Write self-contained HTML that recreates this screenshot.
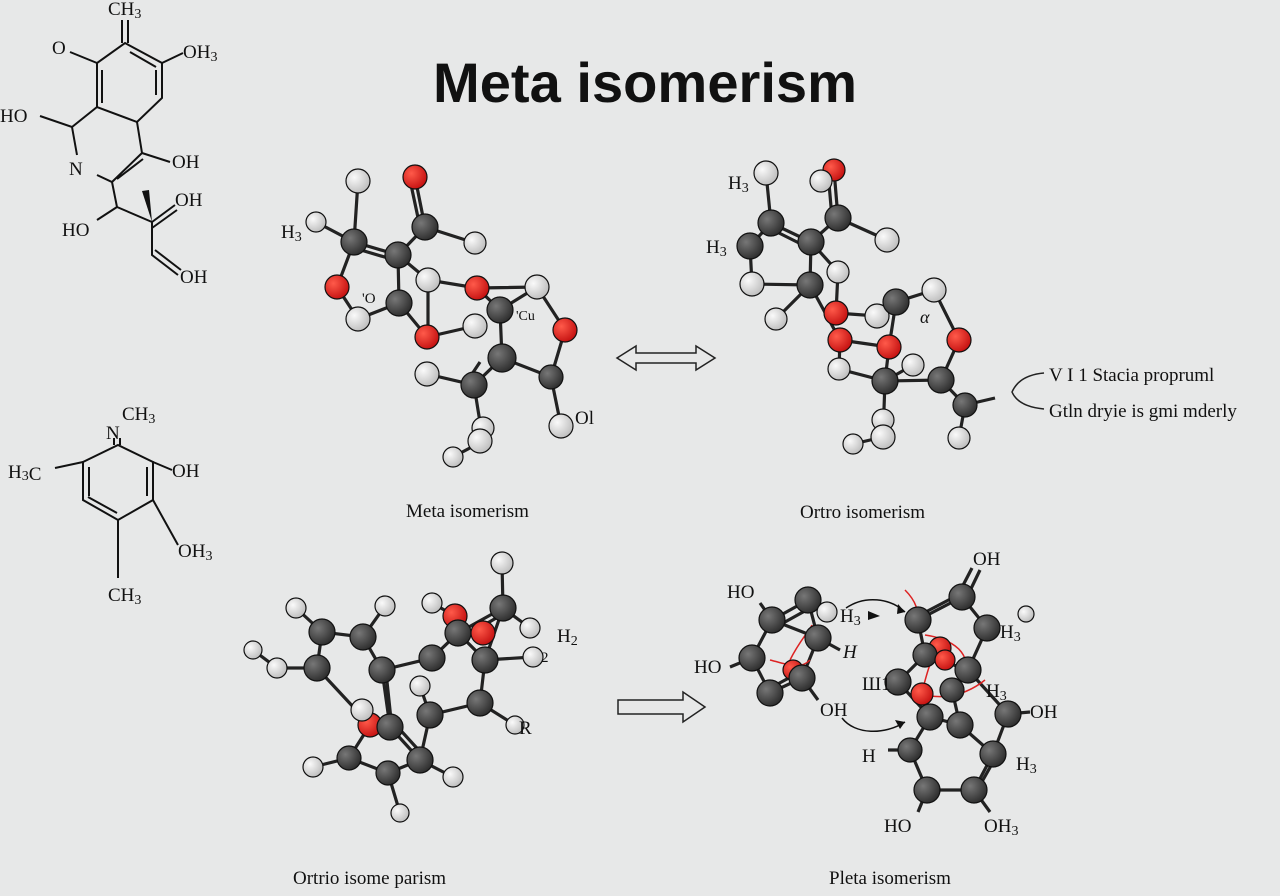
<!DOCTYPE html>
<html><head><meta charset="utf-8"><style>
html,body{margin:0;padding:0;background:#e7e8e8;}
svg{display:block}
.s{font-family:"Liberation Serif",serif;fill:#111}
.t{font-family:"Liberation Sans",sans-serif;font-weight:bold;fill:#111}
</style></head><body>
<svg width="1280" height="896" viewBox="0 0 1280 896" xmlns="http://www.w3.org/2000/svg">
<defs>
<radialGradient id="gc" cx="0.35" cy="0.35" r="0.7"><stop offset="0" stop-color="#777"/><stop offset="1" stop-color="#2c2c2c"/></radialGradient>
<radialGradient id="go" cx="0.35" cy="0.35" r="0.7"><stop offset="0" stop-color="#ff5a4a"/><stop offset="1" stop-color="#c41010"/></radialGradient>
<radialGradient id="gh" cx="0.35" cy="0.35" r="0.7"><stop offset="0" stop-color="#fafafa"/><stop offset="1" stop-color="#bdbdbd"/></radialGradient>
</defs>
<rect width="1280" height="896" fill="#e7e8e8"/>

<text class="t" x="433" y="102" font-size="56" textLength="424" lengthAdjust="spacingAndGlyphs">Meta isomerism</text>

<g class="s">
<!-- skeletal 1 -->
<g stroke="#111" stroke-width="2" fill="none">
<path d="M125,43 L162,63 L162,98 L137,122 L97,107 L97,63 Z"/>
<path d="M130,52 L156,67 M156,70 L156,95 M102,70 L102,103"/>
<path d="M122,20 V43 M128,20 V43"/>
<path d="M70,52 L97,63 M162,63 L183,53 M40,116 L72,127 L97,107 M72,127 L77,155 M97,175 L112,182 L142,153 L137,122 M117,179 L143,159 M142,153 L170,162 M112,182 L117,207 L97,220 M117,207 L152,222 L175,205 M152,228 L177,210 M152,222 L152,255 L178,275 M155,250 L181,270"/>
</g>
<path d="M152,222 L142,191 L149,190 Z" fill="#111"/>
<g font-size="19">
<text x="108" y="15">CH<tspan font-size="14" dy="3">3</tspan></text>
<text x="52" y="54">O</text>
<text x="183" y="58">OH<tspan font-size="14" dy="3">3</tspan></text>
<text x="0" y="122">HO</text>
<text x="69" y="175">N</text>
<text x="172" y="168">OH</text>
<text x="62" y="236">HO</text>
<text x="175" y="206">OH</text>
<text x="180" y="283">OH</text>
</g>

<!-- skeletal 2 -->
<g stroke="#111" stroke-width="2" fill="none">
<path d="M118,445 L153,462 L153,500 L118,520 L83,500 L83,462 Z"/>
<path d="M147,467 L147,496 M89,467 L89,496 M117,513 L88,497"/>
<path d="M114,438 V445 M120,438 V445 M55,468 L83,462 M153,462 L172,470 M153,500 L178,545 M118,520 V578"/>
</g>
<g font-size="19">
<text x="106" y="439">N</text><text x="122" y="420">CH<tspan font-size="14" dy="3">3</tspan></text>
<text x="8" y="478">H<tspan font-size="14" dy="2">3</tspan>C</text>
<text x="172" y="477">OH</text>
<text x="178" y="557">OH<tspan font-size="14" dy="3">3</tspan></text>
<text x="108" y="601">CH<tspan font-size="14" dy="3">3</tspan></text>
</g>

<!-- molecule 1 -->
<g stroke="#222" stroke-width="3.2" fill="none">
<path d="M358,181 L354,242 L316,222 M354,242 L398,255 M354,248 L398,261 M398,255 L425,227 M425,227 L415,177 M420,227 L410,180 M425,227 L475,243 M354,242 L337,287 L358,319 L399,303 L398,255 M398,255 L428,280 L477,288 L537,287 L565,330 L551,377 L561,426 M399,303 L427,337 L475,326 M428,280 L428,337 M477,288 L500,310 L502,358 L474,385 L427,374 M502,358 L551,377 M474,385 L483,441 L453,457 M500,310 L537,287 M480,362 L468,380"/>
</g>
<g stroke="#111" stroke-width="1.2">
<circle cx="358" cy="181" r="12" fill="url(#gh)"/><circle cx="415" cy="177" r="12" fill="url(#go)"/>
<circle cx="316" cy="222" r="10" fill="url(#gh)"/><circle cx="354" cy="242" r="13" fill="url(#gc)"/>
<circle cx="425" cy="227" r="13" fill="url(#gc)"/><circle cx="475" cy="243" r="11" fill="url(#gh)"/>
<circle cx="398" cy="255" r="13" fill="url(#gc)"/><circle cx="337" cy="287" r="12" fill="url(#go)"/>
<circle cx="399" cy="303" r="13" fill="url(#gc)"/><circle cx="428" cy="280" r="12" fill="url(#gh)"/>
<circle cx="477" cy="288" r="12" fill="url(#go)"/><circle cx="537" cy="287" r="12" fill="url(#gh)"/>
<circle cx="358" cy="319" r="12" fill="url(#gh)"/><circle cx="427" cy="337" r="12" fill="url(#go)"/>
<circle cx="475" cy="326" r="12" fill="url(#gh)"/><circle cx="500" cy="310" r="13" fill="url(#gc)"/>
<circle cx="565" cy="330" r="12" fill="url(#go)"/><circle cx="427" cy="374" r="12" fill="url(#gh)"/>
<circle cx="502" cy="358" r="14" fill="url(#gc)"/><circle cx="474" cy="385" r="13" fill="url(#gc)"/>
<circle cx="551" cy="377" r="12" fill="url(#gc)"/><circle cx="561" cy="426" r="12" fill="url(#gh)"/>
<circle cx="483" cy="428" r="11" fill="url(#gh)"/><circle cx="480" cy="441" r="12" fill="url(#gh)"/>
<circle cx="453" cy="457" r="10" fill="url(#gh)"/>
</g>
<g font-size="19"><text x="281" y="238">H<tspan font-size="14" dy="3">3</tspan></text>
<text x="362" y="303" font-size="15">'O</text><text x="516" y="320" font-size="14">'Cu</text>
<text x="575" y="424">Ol</text></g>

<!-- double arrow -->
<path d="M617,358 L636,346 L636,353 L696,353 L696,346 L715,358 L696,370 L696,363 L636,363 L636,370 Z" fill="none" stroke="#222" stroke-width="1.5"/>

<!-- molecule 2 -->
<g stroke="#222" stroke-width="3.2" fill="none">
<path d="M766,173 L771,223 L750,246 L752,284 L810,285 L811,242 L771,223 M773,230 L809,248 M811,242 L838,218 L834,170 M832,218 L828,172 M838,218 L887,240 M811,242 L838,272 L836,313 M810,285 L776,319 M810,285 L840,340 L839,369 L885,381 L941,380 L965,405 L959,438 M836,313 L877,316 L896,302 L934,290 L959,340 L941,380 M896,302 L889,347 L885,381 L883,437 L853,444 M840,340 L889,347 M885,381 L913,365 M965,405 L995,398"/>
</g>
<g stroke="#111" stroke-width="1.2">
<circle cx="766" cy="173" r="12" fill="url(#gh)"/><circle cx="834" cy="170" r="11" fill="url(#go)"/>
<circle cx="821" cy="181" r="11" fill="url(#gh)"/><circle cx="771" cy="223" r="13" fill="url(#gc)"/>
<circle cx="750" cy="246" r="13" fill="url(#gc)"/><circle cx="811" cy="242" r="13" fill="url(#gc)"/>
<circle cx="838" cy="218" r="13" fill="url(#gc)"/><circle cx="887" cy="240" r="12" fill="url(#gh)"/>
<circle cx="752" cy="284" r="12" fill="url(#gh)"/><circle cx="810" cy="285" r="13" fill="url(#gc)"/>
<circle cx="838" cy="272" r="11" fill="url(#gh)"/><circle cx="776" cy="319" r="11" fill="url(#gh)"/>
<circle cx="836" cy="313" r="12" fill="url(#go)"/><circle cx="877" cy="316" r="12" fill="url(#gh)"/>
<circle cx="896" cy="302" r="13" fill="url(#gc)"/><circle cx="934" cy="290" r="12" fill="url(#gh)"/>
<circle cx="840" cy="340" r="12" fill="url(#go)"/><circle cx="959" cy="340" r="12" fill="url(#go)"/>
<circle cx="913" cy="365" r="11" fill="url(#gh)"/><circle cx="889" cy="347" r="12" fill="url(#go)"/>
<circle cx="839" cy="369" r="11" fill="url(#gh)"/><circle cx="885" cy="381" r="13" fill="url(#gc)"/>
<circle cx="941" cy="380" r="13" fill="url(#gc)"/><circle cx="965" cy="405" r="12" fill="url(#gc)"/>
<circle cx="959" cy="438" r="11" fill="url(#gh)"/><circle cx="883" cy="420" r="11" fill="url(#gh)"/>
<circle cx="883" cy="437" r="12" fill="url(#gh)"/><circle cx="853" cy="444" r="10" fill="url(#gh)"/>
</g>
<g font-size="19"><text x="728" y="189">H<tspan font-size="14" dy="3">3</tspan></text>
<text x="706" y="253">H<tspan font-size="14" dy="3">3</tspan></text>
<text x="920" y="323" font-size="18" font-style="italic">α</text></g>
<path d="M1044,373 C1022,375 1015,385 1012,392 C1015,399 1022,407 1044,409" fill="none" stroke="#222" stroke-width="1.5"/>
<g font-size="19"><text x="1049" y="381">V I 1 Stacia propruml</text>
<text x="1049" y="417">Gtln dryie is gmi mderly</text></g>
<text x="406" y="517" font-size="19">Meta isomerism</text>
<text x="800" y="518" font-size="19">Ortro isomerism</text>

<!-- molecule 3 -->
<g stroke="#222" stroke-width="3.2" fill="none">
<path d="M502,563 L503,608 L458,633 M503,614 L462,638 M503,608 L530,628 M503,608 L485,660 M458,633 L432,658 L382,670 L363,637 L322,632 L317,668 L277,668 L253,650 M322,632 L296,608 M363,637 L385,606 M317,668 L370,725 M382,670 L390,727 M386,672 L392,729 M458,633 L485,660 L480,703 L430,715 L420,760 L388,773 L349,758 L313,767 M349,758 L370,725 M390,727 L420,760 M394,723 L424,756 M430,715 L420,686 M480,703 L515,725 M420,760 L453,777 M388,773 L400,813 M455,616 L432,603 M485,660 L533,657 M432,658 L458,633"/>
</g>
<g stroke="#111" stroke-width="1.2">
<circle cx="502" cy="563" r="11" fill="url(#gh)"/><circle cx="296" cy="608" r="10" fill="url(#gh)"/>
<circle cx="385" cy="606" r="10" fill="url(#gh)"/><circle cx="432" cy="603" r="10" fill="url(#gh)"/>
<circle cx="455" cy="616" r="12" fill="url(#go)"/><circle cx="503" cy="608" r="13" fill="url(#gc)"/>
<circle cx="530" cy="628" r="10" fill="url(#gh)"/><circle cx="458" cy="633" r="13" fill="url(#gc)"/>
<circle cx="483" cy="633" r="12" fill="url(#go)"/><circle cx="485" cy="660" r="13" fill="url(#gc)"/>
<circle cx="533" cy="657" r="10" fill="url(#gh)"/><circle cx="432" cy="658" r="13" fill="url(#gc)"/>
<circle cx="322" cy="632" r="13" fill="url(#gc)"/><circle cx="363" cy="637" r="13" fill="url(#gc)"/>
<circle cx="253" cy="650" r="9" fill="url(#gh)"/><circle cx="277" cy="668" r="10" fill="url(#gh)"/>
<circle cx="317" cy="668" r="13" fill="url(#gc)"/><circle cx="382" cy="670" r="13" fill="url(#gc)"/>
<circle cx="420" cy="686" r="10" fill="url(#gh)"/><circle cx="480" cy="703" r="13" fill="url(#gc)"/>
<circle cx="370" cy="725" r="12" fill="url(#go)"/><circle cx="362" cy="710" r="11" fill="url(#gh)"/>
<circle cx="390" cy="727" r="13" fill="url(#gc)"/><circle cx="430" cy="715" r="13" fill="url(#gc)"/>
<circle cx="515" cy="725" r="9" fill="url(#gh)"/><circle cx="420" cy="760" r="13" fill="url(#gc)"/>
<circle cx="349" cy="758" r="12" fill="url(#gc)"/><circle cx="388" cy="773" r="12" fill="url(#gc)"/>
<circle cx="313" cy="767" r="10" fill="url(#gh)"/><circle cx="453" cy="777" r="10" fill="url(#gh)"/>
<circle cx="400" cy="813" r="9" fill="url(#gh)"/>
</g>
<g font-size="19"><text x="557" y="642">H<tspan font-size="14" dy="3">2</tspan></text>
<text x="541" y="662" font-size="15">2</text><text x="519" y="734">R</text></g>

<!-- right arrow -->
<path d="M618,700 L683,700 L683,692 L705,707 L683,722 L683,714 L618,714 Z" fill="none" stroke="#222" stroke-width="1.5"/>

<!-- molecule 4 -->
<g stroke="#222" stroke-width="3.2" fill="none">
<path d="M808,600 L772,620 L752,658 L770,693 L802,678 L818,638 L808,600 M776,627 L812,607 M774,686 L800,672 M772,620 L818,638 M752,658 L730,667 M772,620 L760,603 M818,638 L840,650 M802,678 L818,700 M962,597 L918,620 L925,655 L898,682 L930,717 L910,750 L927,790 L974,790 L993,754 L960,725 L930,717 M962,597 L987,628 L968,670 L952,690 L960,725 M968,670 L1008,714 L993,754 M997,755 L979,787 M967,597 L980,570 M958,595 L972,568 M920,615 L960,594 M925,655 L968,670 M1008,714 L1030,712 M910,750 L888,750 M927,790 L918,812 M974,790 L990,812"/>
</g>
<g fill="none" stroke="#d22" stroke-width="1.5">
<path d="M790,660 C800,640 810,630 812,625 M770,660 C790,665 800,670 810,660 M905,590 C915,600 920,610 918,630 M925,635 C960,640 975,660 960,680 M915,690 C930,700 960,700 985,680 M940,640 C930,660 925,680 920,700"/>
</g>
<g fill="none" stroke="#111" stroke-width="1.5">
<path d="M846,608 C865,595 890,598 905,612"/><path d="M842,718 C855,735 885,735 905,722"/>
</g>
<path d="M905,612 L898,604 L897,614 Z M905,722 L895,720 L900,729 Z M880,616 L868,611 L868,620 Z" fill="#111"/>
<g stroke="#111" stroke-width="1.2">
<circle cx="808" cy="600" r="13" fill="url(#gc)"/><circle cx="827" cy="612" r="10" fill="url(#gh)"/>
<circle cx="772" cy="620" r="13" fill="url(#gc)"/><circle cx="818" cy="638" r="13" fill="url(#gc)"/>
<circle cx="752" cy="658" r="13" fill="url(#gc)"/><circle cx="793" cy="670" r="10" fill="url(#go)"/>
<circle cx="802" cy="678" r="13" fill="url(#gc)"/><circle cx="770" cy="693" r="13" fill="url(#gc)"/>
<circle cx="962" cy="597" r="13" fill="url(#gc)"/><circle cx="918" cy="620" r="13" fill="url(#gc)"/>
<circle cx="987" cy="628" r="13" fill="url(#gc)"/><circle cx="1026" cy="614" r="8" fill="url(#gh)"/>
<circle cx="940" cy="648" r="11" fill="url(#go)"/><circle cx="925" cy="655" r="12" fill="url(#gc)"/>
<circle cx="945" cy="660" r="10" fill="url(#go)"/><circle cx="968" cy="670" r="13" fill="url(#gc)"/>
<circle cx="898" cy="682" r="13" fill="url(#gc)"/><circle cx="922" cy="694" r="11" fill="url(#go)"/>
<circle cx="952" cy="690" r="12" fill="url(#gc)"/><circle cx="930" cy="717" r="13" fill="url(#gc)"/>
<circle cx="1008" cy="714" r="13" fill="url(#gc)"/><circle cx="960" cy="725" r="13" fill="url(#gc)"/>
<circle cx="910" cy="750" r="12" fill="url(#gc)"/><circle cx="993" cy="754" r="13" fill="url(#gc)"/>
<circle cx="927" cy="790" r="13" fill="url(#gc)"/><circle cx="974" cy="790" r="13" fill="url(#gc)"/>
</g>
<g font-size="19">
<text x="727" y="598">HO</text><text x="694" y="673">HO</text>
<text x="820" y="716">OH</text><text x="843" y="658" font-style="italic">H</text>
<text x="840" y="622">H<tspan font-size="14" dy="3">3</tspan></text>
<text x="973" y="565">OH</text><text x="1000" y="638">H<tspan font-size="14" dy="3">3</tspan></text>
<text x="862" y="690">Ш1</text><text x="986" y="697">H<tspan font-size="14" dy="3">3</tspan></text>
<text x="1030" y="718">OH</text><text x="862" y="762">H</text>
<text x="1016" y="770">H<tspan font-size="14" dy="3">3</tspan></text>
<text x="884" y="832">HO</text><text x="984" y="832">OH<tspan font-size="14" dy="3">3</tspan></text>
</g>
<text x="293" y="884" font-size="19">Ortrio isome parism</text>
<text x="829" y="884" font-size="19">Pleta isomerism</text>
</g>
</svg>
</body></html>
